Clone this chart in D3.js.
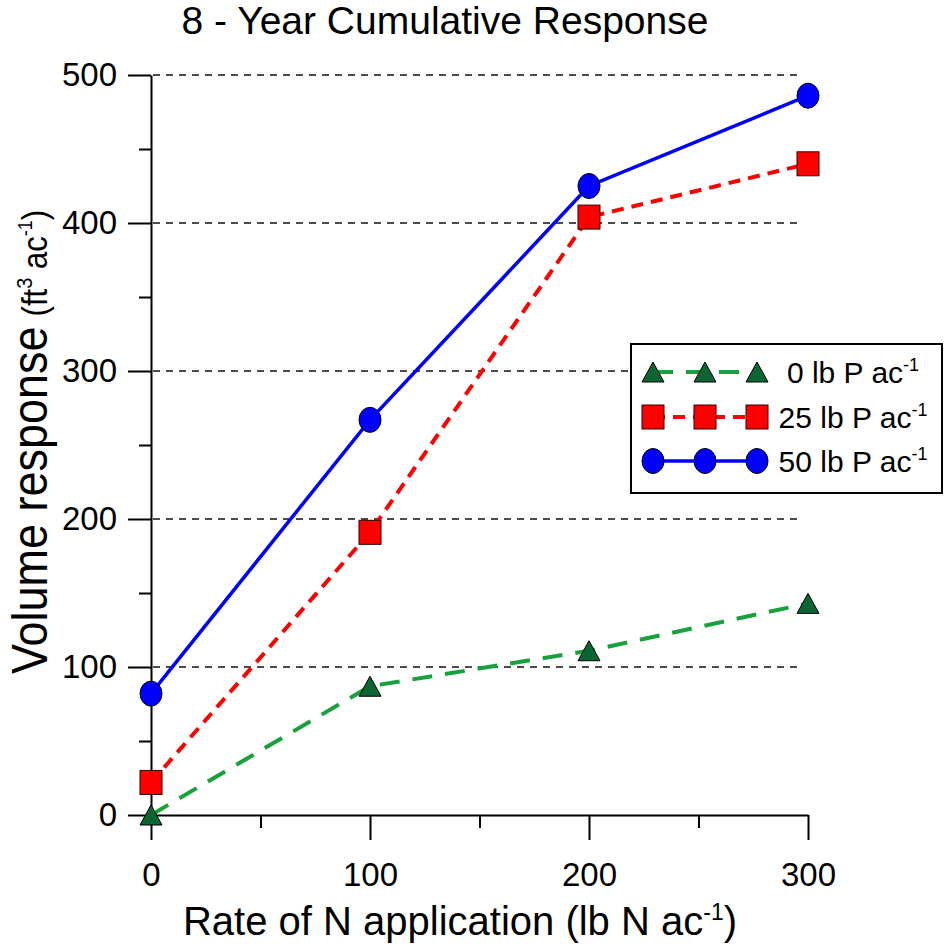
<!DOCTYPE html>
<html>
<head>
<meta charset="utf-8">
<script src="https://cdn.jsdelivr.net/npm/d3@7"></script>
<style>
  html, body { margin: 0; padding: 0; background: #fff; }
  svg { display: block; }
  svg text { font-family: Arial, "Liberation Sans", sans-serif; }
</style>
</head>
<body>
<svg id="chart" width="944" height="946"></svg>
<script>
// N application rates (lb N / ac)
const nRates = [0, 100, 200, 300];
// Cumulative 8-year volume response (ft3 / ac) by P rate
const p0Values = [0, 87, 111, 143];
const p25Values = [22, 191, 404, 440];
const p50Values = [82, 267, 425, 486];

const seriesNames = ["0 lb P ac", "25 lb P ac", "50 lb P ac"];
const yTickValues = [0, 100, 200, 300, 400, 500];
const yMinorValues = [50, 150, 250, 350, 450];
const xTickValues = [0, 100, 200, 300];
const xMinorValues = [50, 150, 250];
const gridValues = [100, 200, 300, 400, 500];

const svg = d3.select("#chart");

const x = d3.scaleLinear().domain([0, 300]).range([151, 808]);
const y = d3.scaleLinear().domain([0, 500]).range([815, 75]);

const series = [
  { name: seriesNames[0], values: p0Values, color: "#17a03c", dash: "20,13", width: 4, fill: "#0b6633", shape: "triangle" },
  { name: seriesNames[1], values: p25Values, color: "#ff0000", dash: "12,8", width: 4, fill: "#ff0000", shape: "square" },
  { name: seriesNames[2], values: p50Values, color: "#0000ff", dash: null, width: 3.5, fill: "#0000ff", shape: "circle" }
];

// dashed horizontal grid
svg.append("g").selectAll("line").data(gridValues).join("line")
  .attr("x1", x(0) + 2).attr("x2", x(297))
  .attr("y1", d => y(d)).attr("y2", d => y(d))
  .attr("stroke", "#111").attr("stroke-width", 1.3)
  .attr("stroke-dasharray", "7,6");

// axes
const axisFont = g => g.attr("font-family", null).selectAll("text")
  .attr("font-size", 33).attr("fill", "#000");

const yAxis = svg.append("g").attr("transform", `translate(${x(0)},0)`)
  .call(d3.axisLeft(y).tickValues(yTickValues).tickSize(23).tickSizeOuter(0).tickPadding(11).tickFormat(d3.format("d")))
  .call(axisFont);
yAxis.selectAll("line, path").attr("stroke", "#000").attr("stroke-width", 2);

svg.append("g").attr("transform", `translate(${x(0)},0)`)
  .call(d3.axisLeft(y).tickValues(yMinorValues).tickSize(12).tickSizeOuter(0).tickFormat(""))
  .call(g => g.select(".domain").remove())
  .selectAll("line").attr("stroke", "#000").attr("stroke-width", 2);

const xAxis = svg.append("g").attr("transform", `translate(0,${y(0)})`)
  .call(d3.axisBottom(x).tickValues(xTickValues).tickSize(25).tickSizeOuter(0).tickPadding(23).tickFormat(d3.format("d")))
  .call(axisFont);
xAxis.selectAll("line, path").attr("stroke", "#000").attr("stroke-width", 2);

svg.append("g").attr("transform", `translate(0,${y(0)})`)
  .call(d3.axisBottom(x).tickValues(xMinorValues).tickSize(13).tickSizeOuter(0).tickFormat(""))
  .call(g => g.select(".domain").remove())
  .selectAll("line").attr("stroke", "#000").attr("stroke-width", 2);

// marker shapes
function drawMarker(g, shape, fill, cx, cy) {
  if (shape === "circle") {
    g.append("ellipse").attr("cx", cx).attr("cy", cy).attr("rx", 11).attr("ry", 12.5)
      .attr("fill", fill).attr("stroke", "#000").attr("stroke-width", 1);
  } else if (shape === "square") {
    g.append("rect").attr("x", cx - 11).attr("y", cy - 12).attr("width", 22).attr("height", 24)
      .attr("fill", fill).attr("stroke", "#300").attr("stroke-width", 1);
  } else {
    g.append("path").attr("d", `M${cx},${cy - 10}L${cx + 11},${cy + 10}L${cx - 11},${cy + 10}Z`)
      .attr("fill", fill).attr("stroke", "#000").attr("stroke-width", 1);
  }
}

const line = d3.line().x((d, i) => x(nRates[i])).y(d => y(d));

series.forEach(s => {
  const g = svg.append("g");
  g.append("path").attr("d", line(s.values))
    .attr("fill", "none").attr("stroke", s.color).attr("stroke-width", s.width)
    .attr("stroke-dasharray", s.dash);
  s.values.forEach((v, i) => drawMarker(g, s.shape, s.fill, x(nRates[i]), y(v)));
});

// title
svg.append("text").attr("x", 445).attr("y", 34).attr("text-anchor", "middle")
  .attr("font-size", 39).text("8 - Year Cumulative Response");

// x axis title
const xt = svg.append("text").attr("x", 460).attr("y", 935).attr("text-anchor", "middle").attr("font-size", 40);
xt.append("tspan").text("Rate of N application (lb N ac");
xt.append("tspan").attr("font-size", 23).attr("dy", -15).text("-1");
xt.append("tspan").attr("dy", 15).text(")");

// y axis title
const yt = svg.append("text").attr("text-anchor", "middle")
  .attr("transform", "translate(47,442) rotate(-90) scale(1,1.12)").attr("font-size", 45);
yt.append("tspan").text("Volume response");
yt.append("tspan").attr("font-size", 31).attr("dx", 10).text("(ft");
yt.append("tspan").attr("font-size", 20).attr("dy", -13).text("3");
yt.append("tspan").attr("font-size", 31).attr("dy", 13).text(" ac");
yt.append("tspan").attr("font-size", 18).attr("dy", -13).text("-1");
yt.append("tspan").attr("font-size", 31).attr("dy", 13).text(")");

// legend
const legend = svg.append("g");
legend.append("rect").attr("x", 631).attr("y", 344).attr("width", 311).attr("height", 149)
  .attr("fill", "#fff").attr("stroke", "#000").attr("stroke-width", 2);
const symX = [653, 705, 757];
const rowY = [372, 417, 461];
series.forEach((s, r) => {
  const g = legend.append("g");
  g.append("line").attr("x1", symX[0]).attr("x2", symX[2]).attr("y1", rowY[r]).attr("y2", rowY[r])
    .attr("stroke", s.color).attr("stroke-width", s.width).attr("stroke-dasharray", s.dash);
  symX.forEach(sx => drawMarker(g, s.shape, s.fill, sx, rowY[r]));
  const t = g.append("text").attr("x", 853).attr("y", rowY[r] + 11).attr("text-anchor", "middle").attr("font-size", 30);
  t.append("tspan").text(s.name);
  t.append("tspan").attr("font-size", 18).attr("dy", -12).text("-1");
});
</script>
</body>
</html>
